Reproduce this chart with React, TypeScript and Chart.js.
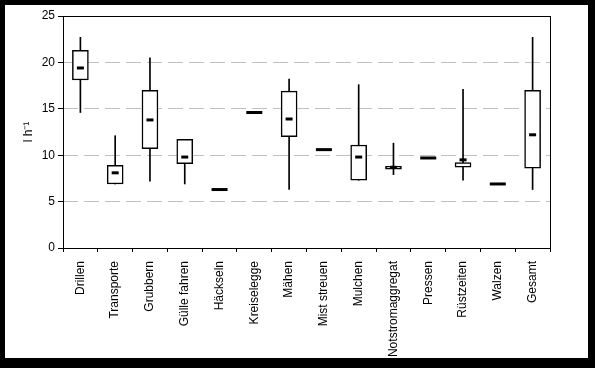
import React, { useEffect, useRef } from "react";
import { Chart, registerables } from "chart.js";

Chart.register(...registerables);

const categories = [
  "Drillen", "Transporte", "Grubbern", "Gülle fahren", "Häckseln", "Kreiselegge", "Mähen",
  "Mist streuen", "Mulchen", "Notstromaggregat", "Pressen", "Rüstzeiten", "Walzen", "Gesamt",
];
const whiskerMin = [14.6, 6.9, 7.2, 6.9, null, null, 6.3, null, 7.3, 7.9, null, 7.3, null, 6.3];
const whiskerMax = [22.7, 12.1, 20.5, 11.7, null, null, 18.2, null, 17.6, 11.3, null, 17.1, null, 22.7];
const q1 = [18.1, 6.9, 10.7, 9.1, null, null, 12.0, null, 7.3, 8.5, null, 8.7, null, 8.6];
const q3 = [21.3, 8.9, 17.0, 11.7, null, null, 16.9, null, 11.1, 8.8, null, 9.2, null, 17.0];
const medianVals = [19.4, 8.1, 13.8, 9.8, null, null, 13.9, null, 9.8, 8.7, null, 9.5, null, 12.2];
const singleVals = [null, null, null, null, 6.3, 14.6, null, 10.6, null, null, 9.7, null, 6.9, null];
const yTicks = [0, 5, 10, 15, 20, 25];

const FONT = "'Liberation Sans', Arial, sans-serif";

const framePlugin = {
  id: "frame",
  afterDraw(chart: any) {
    const { ctx, chartArea } = chart;
    ctx.save();
    ctx.strokeStyle = "#000";
    ctx.lineWidth = 1;
    ctx.strokeRect(
      Math.round(chartArea.left) + 0.5,
      Math.round(chartArea.top) + 0.5,
      Math.round(chartArea.right - chartArea.left),
      Math.round(chartArea.bottom - chartArea.top)
    );
    ctx.restore();
  },
};

export default function App() {
  const ref = useRef<HTMLCanvasElement>(null);
  useEffect(() => {
    document.body.style.margin = "0";
    const pair = (a: (number | null)[], b: (number | null)[]) =>
      a.map((v, i) => (v === null || b[i] === null ? null : [v, b[i] as number]));
    const chart = new Chart(ref.current as HTMLCanvasElement, {
      type: "bar",
      data: {
        labels: categories,
        datasets: [
          {
            type: "bar",
            data: pair(whiskerMin, whiskerMax) as any,
            backgroundColor: "#000",
            borderWidth: 0,
            barThickness: 1,
            grouped: false,
            order: 3,
          } as any,
          {
            type: "bar",
            data: pair(q1, q3) as any,
            backgroundColor: "#fff",
            borderColor: "#000",
            borderWidth: 1.5,
            borderSkipped: false,
            barThickness: 16,
            grouped: false,
            order: 2,
          } as any,
          {
            type: "line",
            data: medianVals as any,
            showLine: false,
            pointStyle: "line",
            pointRadius: 3.5,
            pointBorderWidth: 3,
            borderColor: "#000",
            order: 1,
          } as any,
          {
            type: "line",
            data: singleVals as any,
            showLine: false,
            pointStyle: "line",
            pointRadius: 8,
            pointBorderWidth: 3,
            borderColor: "#000",
            order: 1,
          } as any,
        ],
      },
      options: {
        animation: false,
        responsive: false,
        devicePixelRatio: 1,
        layout: { padding: { left: 5, top: 11, right: 38, bottom: 0 } },
        plugins: { legend: { display: false }, tooltip: { enabled: false } },
        scales: {
          x: {
            offset: true,
            afterFit: (s: any) => { s.height = 110; },
            grid: {
              offset: true,
              drawOnChartArea: false,
              drawTicks: true,
              tickLength: 4,
              tickColor: "#000",
              tickWidth: 1,
            },
            border: { display: false },
            ticks: {
              autoSkip: false,
              maxRotation: 90,
              minRotation: 90,
              padding: 9,
              color: "#000",
              font: { family: FONT, size: 12 },
            },
          },
          y: {
            min: 0,
            max: 25,
            afterFit: (s: any) => { s.width = 53; },
            afterBuildTicks: (s: any) => { s.ticks = yTicks.map((v) => ({ value: v })); },
            grid: {
              color: (c: any) =>
                c.tick && (c.tick.value === 0 || c.tick.value === 25) ? "rgba(0,0,0,0)" : "#c0c0c0",
              lineWidth: 1,
              drawTicks: true,
              tickLength: 5,
              tickColor: "#000",
              tickBorderDash: [],
            },
            border: { display: false, dash: [15, 6] },
            ticks: {
              padding: 3,
              color: "#000",
              font: { family: FONT, size: 12 },
            },
            title: {
              display: true,
              text: "l h⁻¹",
              color: "#000",
              font: { family: FONT, size: 12 },
              padding: { top: 11, bottom: 0 },
            },
          },
        },
      },
      plugins: [framePlugin],
    });
    return () => chart.destroy();
  }, []);
  return (
    <div style={{ position: "absolute", left: 0, top: 0, width: 595, height: 368, background: "#000" }}>
      <div style={{ position: "absolute", left: 5, top: 5, width: 583, height: 353, background: "#fff" }}>
        <canvas ref={ref} width={583} height={353} style={{ display: "block" }} />
      </div>
    </div>
  );
}
